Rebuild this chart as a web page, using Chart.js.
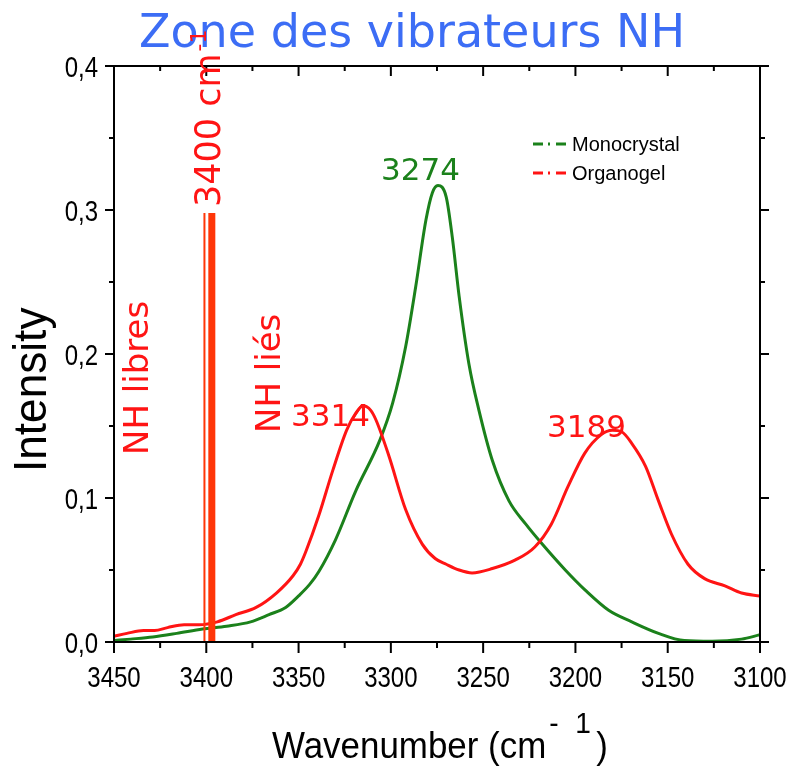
<!DOCTYPE html>
<html>
<head>
<meta charset="utf-8">
<script src="https://cdn.jsdelivr.net/npm/chart.js@4.4.1/dist/chart.umd.min.js"></script>
<style>
  html, body { margin: 0; background: #fff; }
  #wrap { width: 792px; height: 776px; position: relative; }
</style>
</head>
<body>
<div id="wrap"><canvas id="ir"></canvas></div>
<script>
// Monocrystal spectrum (green)
const monoWave = [3450, 3441, 3429, 3416, 3402, 3389, 3376, 3366, 3357, 3350, 3344, 3339, 3330, 3319, 3306, 3299, 3292, 3286.5, 3281, 3277.5, 3274.5, 3270, 3266.7, 3263, 3257.7, 3252.3, 3245, 3236, 3227, 3218, 3205.5, 3194.7, 3182, 3169.5, 3155, 3141, 3126, 3110, 3100];
const monoInt  = [0.001, 0.002, 0.0035, 0.006, 0.009, 0.011, 0.014, 0.019, 0.024, 0.032, 0.040, 0.049, 0.071, 0.105, 0.140, 0.166, 0.205, 0.247, 0.293, 0.312, 0.317, 0.309, 0.281, 0.240, 0.193, 0.161, 0.126, 0.098, 0.082, 0.068, 0.050, 0.036, 0.022, 0.014, 0.006, 0.001, 0.0005, 0.002, 0.005];

// Organogel spectrum (red)
const gelWave = [3450, 3443, 3434, 3428, 3421, 3412, 3404, 3394, 3384, 3373, 3362, 3353, 3349, 3346, 3339, 3331.5, 3324, 3319, 3315, 3311, 3308, 3301, 3292, 3283, 3276, 3270, 3263, 3256, 3245, 3232.5, 3222, 3213, 3204, 3195, 3186, 3180, 3175, 3169.5, 3162, 3155, 3148, 3139, 3130, 3119, 3110, 3100];
const gelInt  = [0.004, 0.006, 0.008, 0.008, 0.010, 0.012, 0.012, 0.014, 0.019, 0.024, 0.034, 0.046, 0.054, 0.063, 0.088, 0.119, 0.147, 0.159, 0.164, 0.161, 0.154, 0.129, 0.092, 0.068, 0.058, 0.054, 0.050, 0.048, 0.051, 0.057, 0.066, 0.082, 0.108, 0.131, 0.144, 0.147, 0.146, 0.138, 0.122, 0.098, 0.075, 0.054, 0.044, 0.039, 0.034, 0.032];

// 3400 cm-1 marker bars
const markWave = [3401, 3397];
const markTop  = [0.298, 0.298];

// axis ticks
const xMajor = [3450, 3400, 3350, 3300, 3250, 3200, 3150, 3100];
const xMinor = [3425, 3375, 3325, 3275, 3225, 3175, 3125];
const yMajor = [0, 0.1, 0.2, 0.3, 0.4];
const yMinor = [0.05, 0.15, 0.25, 0.35];
const xTickLabels = ['3450', '3400', '3350', '3300', '3250', '3200', '3150', '3100'];
const yTickLabels = ['0,0', '0,1', '0,2', '0,3', '0,4'];

const seriesNames = ['Monocrystal', 'Organogel'];
const GREEN = '#1b811b';
const RED = '#ff1414';
const BAR = '#ff3608';

const toPoints = (xs, ys) => xs.map((w, i) => ({ x: w, y: ys[i] }));

// narrow-looking text (Arial Narrow style) by squeezing Liberation Sans
function narrowText(ctx, txt, x, y, align, squeeze) {
    ctx.save();
    ctx.translate(x, y);
    ctx.scale(squeeze, 1);
    ctx.textAlign = align;
    ctx.fillText(txt, 0, 0);
    ctx.restore();
}

// Helper: text + ticks + frame
const decor = {
    id: 'decor',
    afterDatasetsDraw(chart) {
        const { ctx, chartArea: a, scales: { x, y } } = chart;
        ctx.save();
        ctx.strokeStyle = '#000';
        ctx.lineWidth = 2;
        ctx.strokeRect(a.left, a.top, a.right - a.left, a.bottom - a.top);

        const tick = (x1, y1, x2, y2) => {
            ctx.beginPath(); ctx.moveTo(x1, y1); ctx.lineTo(x2, y2); ctx.stroke();
        };
        xMajor.forEach(v => {
            const px = x.getPixelForValue(v);
            tick(px, a.bottom, px, a.bottom + 11);
            tick(px, a.top, px, a.top + 10);
        });
        xMinor.forEach(v => {
            const px = x.getPixelForValue(v);
            tick(px, a.bottom, px, a.bottom + 6);
            tick(px, a.top, px, a.top + 5);
        });
        yMajor.forEach(v => {
            const py = y.getPixelForValue(v);
            tick(a.left - 9, py, a.left, py);
            tick(a.right, py, a.right + 9, py);
        });
        yMinor.forEach(v => {
            const py = y.getPixelForValue(v);
            tick(a.left - 5, py, a.left, py);
            tick(a.right, py, a.right + 5, py);
        });

        // tick labels
        ctx.fillStyle = '#000';
        ctx.font = '30px "Liberation Sans"';
        ctx.textBaseline = 'alphabetic';
        xMajor.forEach((v, i) => narrowText(ctx, xTickLabels[i], x.getPixelForValue(v), a.bottom + 45, 'center', 0.8));
        yMajor.forEach((v, i) => narrowText(ctx, yTickLabels[i], a.left - 16, y.getPixelForValue(v) + 11, 'right', 0.8));
        ctx.restore();
    },
    afterDraw(chart) {
        const { ctx } = chart;
        ctx.save();

        // title
        ctx.fillStyle = '#3c6df5';
        ctx.font = '46px "DejaVu Sans"';
        ctx.textAlign = 'center';
        ctx.textBaseline = 'alphabetic';
        ctx.fillText('Zone des vibrateurs NH', 412, 47);

        // peak labels
        ctx.textAlign = 'left';
        ctx.font = '31px "DejaVu Sans"';
        ctx.fillStyle = RED;
        ctx.fillText('3314', 291, 426);
        ctx.fillText('3189', 547, 437);
        ctx.fillStyle = GREEN;
        ctx.fillText('3274', 381, 180);

        // rotated red notes
        const vtext = (txt, bx, by, font) => {
            ctx.save();
            ctx.translate(bx, by);
            ctx.rotate(-Math.PI / 2);
            ctx.font = font;
            ctx.fillText(txt, 0, 0);
            const w = ctx.measureText(txt).width;
            ctx.restore();
            return w;
        };
        ctx.fillStyle = RED;
        vtext('NH libres', 148, 455, '34px "DejaVu Sans"');
        vtext('NH liés', 280, 433, '34px "DejaVu Sans"');
        const w = vtext('3400 cm', 220, 207, '35px "DejaVu Sans"');
        vtext('-1', 206, 207 - w - 2, '22px "DejaVu Sans"');

        // legend
        const legendRow = (name, color, yc) => {
            ctx.save();
            ctx.strokeStyle = color;
            ctx.lineWidth = 3;
            ctx.setLineDash([10, 5, 2, 6]);
            ctx.beginPath(); ctx.moveTo(533, yc); ctx.lineTo(568, yc); ctx.stroke();
            ctx.restore();
            ctx.fillStyle = '#000';
            ctx.font = '20px "Liberation Sans"';
            narrowText(ctx, name, 572, yc + 7, 'left', 1.0);
        };
        legendRow(seriesNames[0], GREEN, 144);
        legendRow(seriesNames[1], RED, 173);

        // axis titles
        ctx.fillStyle = '#000';
        ctx.save();
        ctx.translate(46, 472);
        ctx.rotate(-Math.PI / 2);
        ctx.font = '46px "Liberation Sans"';
        narrowText(ctx, 'Intensity', 0, 0, 'left', 0.96);
        ctx.restore();

        ctx.font = '36px "Liberation Sans"';
        const xt = 'Wavenumber (cm';
        const sq = 0.97;
        narrowText(ctx, xt, 272, 758, 'left', sq);
        const end = 272 + ctx.measureText(xt).width * sq;
        ctx.font = '29px "Liberation Sans"';
        narrowText(ctx, '-', end + 3, 733, 'left', sq);
        narrowText(ctx, '1', end + 29, 733, 'left', sq);
        ctx.font = '36px "Liberation Sans"';
        narrowText(ctx, ')', end + 50, 758, 'left', sq);
        ctx.restore();
    }
};

const lineSet = (label, pts, color, order) => ({
    label, data: pts, borderColor: color, borderWidth: 3,
    pointRadius: 0, cubicInterpolationMode: 'monotone', fill: false, order
});
const barSet = (i, width) => ({
    label: 'mark' + i,
    data: [{ x: markWave[i], y: 0 }, { x: markWave[i], y: markTop[i] }],
    borderColor: BAR, borderWidth: width, pointRadius: 0, order: 0
});

new Chart(document.getElementById('ir'), {
    type: 'line',
    data: {
        datasets: [
            barSet(0, 2),
            barSet(1, 7),
            lineSet(seriesNames[0], toPoints(monoWave, monoInt), GREEN, 2),
            lineSet(seriesNames[1], toPoints(gelWave, gelInt), RED, 1)
        ]
    },
    options: {
        responsive: true,
        maintainAspectRatio: false,
        animation: false,
        layout: { padding: { left: 0, right: 32, top: 66, bottom: 0 } },
        plugins: { legend: { display: false }, title: { display: false }, tooltip: { enabled: false } },
        scales: {
            x: {
                type: 'linear', reverse: true, min: 3100, max: 3450,
                grid: { display: false, drawTicks: false },
                border: { display: false },
                afterBuildTicks: s => { s.ticks = xMajor.map(v => ({ value: v })); },
                afterFit: s => { s.height = 134; },
                ticks: { display: false }
            },
            y: {
                min: 0, max: 0.4,
                grid: { display: false, drawTicks: false },
                border: { display: false },
                afterBuildTicks: s => { s.ticks = yMajor.map(v => ({ value: v })); },
                afterFit: s => { s.width = 114; },
                ticks: { display: false }
            }
        }
    },
    plugins: [decor]
});
</script>
</body>
</html>
